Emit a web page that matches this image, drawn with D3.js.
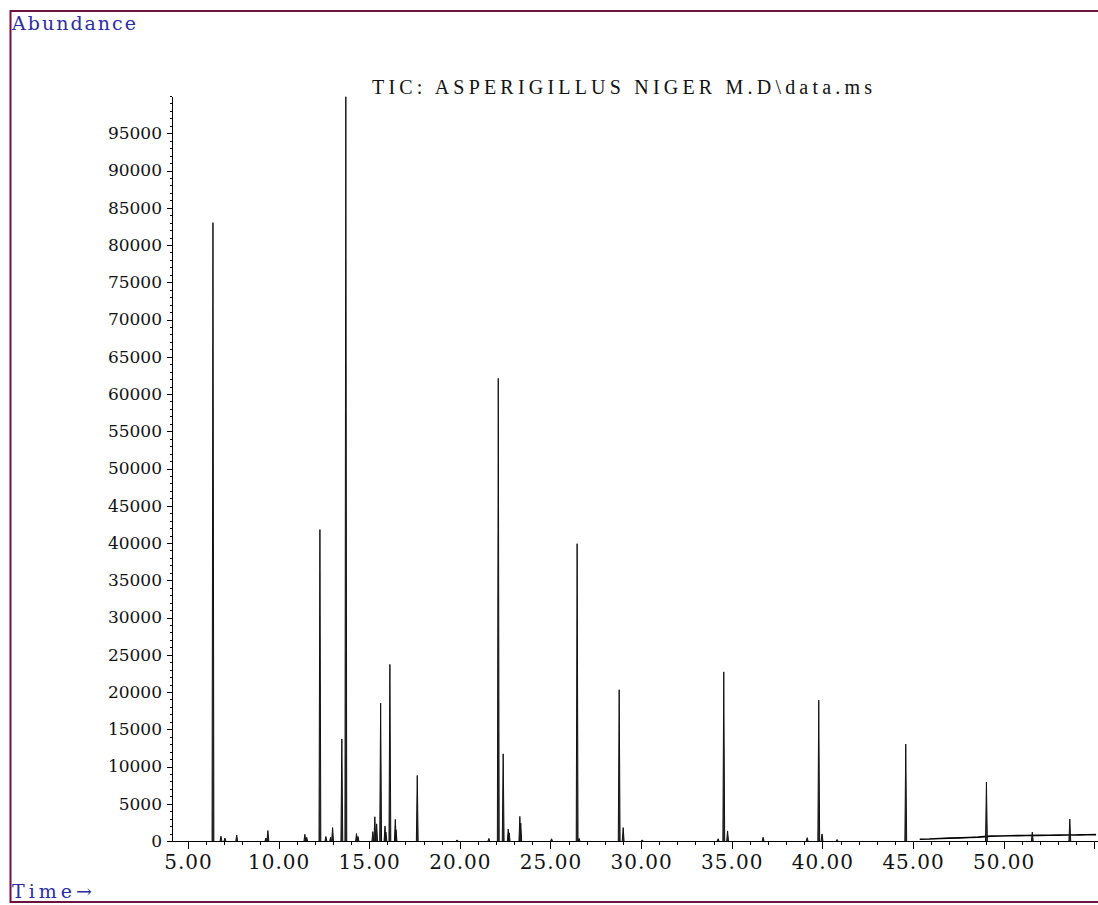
<!DOCTYPE html>
<html>
<head>
<meta charset="utf-8">
<script src="https://cdn.jsdelivr.net/npm/d3@7"></script>
<style>
  body { margin: 0; background: #fff; }
  svg { display: block; }
  .axis path, .axis line { stroke: #000; shape-rendering: crispEdges; }
  .ylab text { font-family: "DejaVu Serif", serif; font-size: 17px; fill: #111; }
  .xlab text { font-family: "DejaVu Serif", serif; font-size: 20px; fill: #111; letter-spacing: 1px; }
</style>
</head>
<body>
<div id="chart"></div>
<script>
var peakTimes = [6.38, 6.82, 7.04, 7.69, 9.30, 9.41, 11.45, 11.55, 12.28, 12.61,
  12.87, 12.98, 13.49, 13.71, 14.30, 14.38, 15.20, 15.31, 15.41, 15.63,
  15.87, 15.92, 16.14, 16.44, 16.48, 17.65, 19.85, 21.60, 22.12, 22.39,
  22.67, 22.72, 23.31, 23.36, 25.06, 26.47, 26.58, 28.79, 29.01, 30.06,
  34.25, 34.56, 34.77, 36.73, 39.16, 39.80, 39.98, 40.81, 44.60, 49.05,
  51.58, 53.65];
var peakHeights = [83000, 650, 400, 800, 400, 1400, 900, 500, 41800, 600,
  500, 1800, 13700, 99900, 1000, 600, 1250, 3250, 2300, 18500,
  2000, 1200, 23700, 2900, 1500, 8800, 150, 350, 62100, 11700,
  1600, 1100, 3300, 2400, 300, 39900, 350, 20300, 1800, 150,
  300, 22700, 1350, 500, 450, 18900, 950, 200, 13000, 7900,
  1200, 2950];

// rising baseline at the end of the run
var driftTimes = [45.37, 45.9, 46.5, 47.0, 47.6, 48.1, 48.6, 49.3, 49.8, 50.3,
  50.8, 51.25, 51.9, 52.5, 53.0, 53.47, 53.9, 54.2, 54.6, 55.1];
var driftValues = [230, 260, 330, 380, 420, 470, 520, 650, 680, 700,
  720, 740, 760, 780, 790, 800, 810, 820, 830, 850];

var yMajor = d3.range(0, 100000, 5000);
var xMajor = d3.range(5, 56, 5);

var width = 1098, height = 905;

var svg = d3.select("#chart").append("svg")
    .attr("width", width).attr("height", height);

var x = d3.scaleLinear().domain([4.12, 55.15]).range([172, 1097]);
var y = d3.scaleLinear().domain([0, 100000]).range([841, 96]);

// frame
svg.append("path")
    .attr("d", "M1100 11 H10.5 V902 H1100")
    .attr("fill", "none")
    .attr("stroke", "#6e1241")
    .attr("stroke-width", 2);

svg.append("text").text("Abundance")
    .attr("x", 12).attr("y", 30)
    .attr("textLength", 124).attr("lengthAdjust", "spacing")
    .style("font-family", "DejaVu Serif, serif").style("font-size", "19px")
    .style("fill", "#2d2da0");

svg.append("text").text("Time\u2192")
    .attr("x", 12).attr("y", 898)
    .attr("textLength", 80).attr("lengthAdjust", "spacing")
    .style("font-family", "DejaVu Serif, serif").style("font-size", "19px")
    .style("fill", "#2d2da0");

svg.append("text").text("TIC: ASPERIGILLUS NIGER M.D\\data.ms")
    .attr("x", 372).attr("y", 94)
    .attr("textLength", 500).attr("lengthAdjust", "spacing")
    .style("font-family", "Liberation Serif, serif").style("font-size", "20px")
    .style("fill", "#111");

// y axis: minor then major
svg.append("g").attr("class", "axis")
    .attr("transform", "translate(172,0)")
    .call(d3.axisLeft(y).tickValues(d3.range(0, 100001, 1000))
      .tickSize(2).tickSizeOuter(0).tickFormat(""));
svg.append("g").attr("class", "axis ylab")
    .attr("transform", "translate(172,0)")
    .call(d3.axisLeft(y).tickValues(yMajor).tickSize(5).tickSizeOuter(0)
      .tickPadding(5).tickFormat(d3.format("d")));

// x axis: minor then major
svg.append("g").attr("class", "axis")
    .attr("transform", "translate(0,841)")
    .call(d3.axisBottom(x).tickValues(d3.range(5, 56, 1))
      .tickSize(4).tickSizeOuter(0).tickFormat(""));
var xa = svg.append("g").attr("class", "axis xlab")
    .attr("transform", "translate(0,841)")
    .call(d3.axisBottom(x).tickValues(xMajor).tickSize(8).tickSizeOuter(0)
      .tickPadding(6).tickFormat(function(d) { return d <= 50 ? d.toFixed(2) : ""; }));
xa.selectAll(".domain").remove();

// baseline drift
svg.append("path")
    .datum(d3.zip(driftTimes, driftValues))
    .attr("fill", "none")
    .attr("stroke", "#000")
    .attr("stroke-width", 1.6)
    .attr("d", d3.line().x(function(d) { return x(d[0]); })
      .y(function(d) { return y(d[1]); }));

// peaks as narrow spikes
var hw = 0.05;
svg.append("g").selectAll("path")
    .data(d3.zip(peakTimes, peakHeights))
    .join("path")
    .attr("d", function(d) {
      return "M" + x(d[0] - hw) + "," + y(0) +
        "L" + x(d[0]) + "," + y(d[1]) +
        "L" + x(d[0] + hw) + "," + y(0);
    })
    .attr("fill", "#333")
    .attr("stroke", "#111")
    .attr("stroke-width", 1);
</script>
</body>
</html>
